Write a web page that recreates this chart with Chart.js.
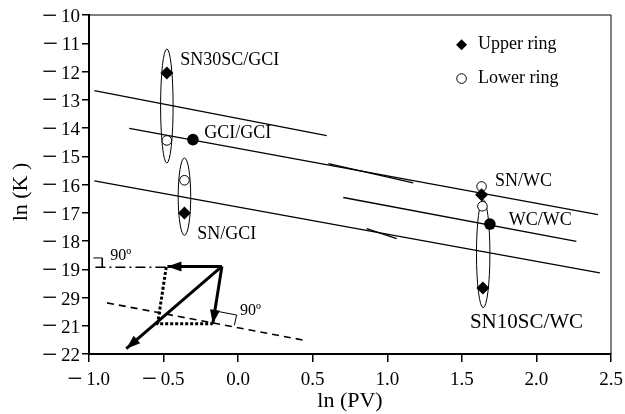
<!DOCTYPE html>
<html>
<head>
<meta charset="utf-8">
<script src="https://cdn.jsdelivr.net/npm/chart.js@4.4.0/dist/chart.umd.min.js"></script>
<style>
  html, body { margin: 0; padding: 0; background: #fff; }
  #wrap { width: 625px; height: 414px; }
</style>
</head>
<body>
<div id="wrap"><canvas id="chart" width="625" height="414"></canvas></div>
<script>
// axis ticks
const xTickValues = [-1.0, -0.5, 0.0, 0.5, 1.0, 1.5, 2.0, 2.5];
const xTickLabels = ['−1.0', '−0.5', '0.0', '0.5', '1.0', '1.5', '2.0', '2.5'];
const yTickValues = [-22, -21, -20, -19, -18, -17, -16, -15, -14, -13, -12, -11, -10];
const yTickLabels = ['−22', '−21', '−29', '−19', '−18', '−17', '−16', '−15', '−14', '−13', '−12', '−11', '−10'];

// measured points: ln(PV), ln(K)
const upperX = [-0.478, -0.36, 1.632, 1.641];
const upperY = [-12.05, -17.01, -16.36, -19.66];
const lowerX = [-0.478, -0.36, 1.632, 1.638];
const lowerY = [-14.44, -15.85, -16.07, -16.77];
const bothX = [-0.303, 1.688];
const bothY = [-14.41, -17.40];

// trend lines
const line1X = [-0.964, 0.594];
const line1Y = [-12.68, -14.27];
const line2X = [-0.73, 2.413];
const line2Y = [-14.01, -17.07];
const line3X = [0.705, 2.268];
const line3Y = [-16.46, -18.01];
const line4X = [-0.964, 2.425];
const line4Y = [-15.87, -19.13];
const short1X = [0.605, 1.174];
const short1Y = [-15.26, -15.94];
const short2X = [0.862, 1.063];
const short2Y = [-17.56, -17.92];

// vector sketch in lower left
const dashX = [-0.879, 0.449];
const dashY = [-20.19, -21.52];
const dashDotX = [-0.957, -0.48];
const dashDotY = [-18.93, -18.93];
const dottedX = [-0.482, -0.54, -0.17];
const dottedY = [-18.92, -20.93, -20.93];
const arrowOrigin = [-0.109, -18.90];
const arrowEndX = [-0.474, -0.17, -0.75];
const arrowEndY = [-18.90, -20.93, -21.81];
const corner1X = [-0.971, -0.911, -0.911];
const corner1Y = [-18.60, -18.60, -18.93];
const corner2X = [-0.15, -0.01, -0.025];
const corner2Y = [-20.48, -20.62, -20.98];

// groups (ellipses): center x, center y, half width, half height
const ellX = [-0.478, -0.36, 1.643];
const ellY = [-13.22, -16.43, -18.45];
const ellRx = [0.042, 0.042, 0.045];
const ellRy = [2.02, 1.37, 1.91];

// labels
const labelText = ['SN30SC/GCI', 'GCI/GCI', 'SN/GCI', 'SN/WC', 'WC/WC', 'SN10SC/WC', '90º', '90º'];
const labelX = [-0.388, -0.228, -0.275, 1.722, 1.815, 1.554, -0.857, 0.013];
const labelY = [-11.62, -14.18, -17.75, -15.89, -17.28, -20.88, -18.52, -20.47];
const labelSize = [18, 18, 18, 18, 18, 21, 16, 16];

const serif = "'Liberation Serif', 'Times New Roman', serif";
const pts = (xs, ys) => xs.map((x, i) => ({ x: x, y: ys[i] }));

function lineSet(xs, ys, width, dash) {
    return {
        type: 'line',
        data: pts(xs, ys),
        borderColor: '#000',
        borderWidth: width,
        borderDash: dash || [],
        pointRadius: 0,
        fill: false,
        tension: 0,
        order: 5
    };
}

const datasets = [
    lineSet(line1X, line1Y, 1.3),
    lineSet(line2X, line2Y, 1.3),
    lineSet(line3X, line3Y, 1.3),
    lineSet(line4X, line4Y, 1.3),
    lineSet(short1X, short1Y, 1.3),
    lineSet(short2X, short2Y, 1.3),
    lineSet(dashX, dashY, 1.6, [7, 5]),
    lineSet(dashDotX, dashDotY, 1.6, [10, 4, 2, 4]),
    lineSet(dottedX, dottedY, 3, [3, 2]),
    lineSet(corner1X, corner1Y, 1),
    lineSet(corner2X, corner2Y, 1),
];
arrowEndX.forEach((x, i) => {
    datasets.push(lineSet([arrowOrigin[0], x], [arrowOrigin[1], arrowEndY[i]], 3));
});
datasets.push({
    type: 'scatter', label: 'Lower ring', data: pts(lowerX, lowerY),
    pointStyle: 'circle', pointRadius: 4.8, borderWidth: 1,
    borderColor: '#000', backgroundColor: '#fff', order: 3
});
datasets.push({
    type: 'scatter', label: 'Upper ring', data: pts(upperX, upperY),
    pointStyle: 'rectRot', pointRadius: 6.5, borderWidth: 0,
    borderColor: '#000', backgroundColor: '#000', order: 2
});
datasets.push({
    type: 'scatter', label: 'Both', data: pts(bothX, bothY),
    pointStyle: 'circle', pointRadius: 5.8, borderWidth: 0,
    borderColor: '#000', backgroundColor: '#000', order: 1
});

// draws a label with a long minus sign like the original figure
function drawNumber(ctx, text, x, baseline, align) {
    const neg = text.startsWith('−');
    const body = neg ? text.slice(1) : text;
    ctx.font = '19px ' + serif;
    const bw = ctx.measureText(body).width;
    const mw = neg ? 18 : 0;
    let left = align === 'right' ? x - bw - mw : x - (bw + mw) / 2;
    ctx.textAlign = 'left';
    ctx.textBaseline = 'alphabetic';
    if (neg) {
        ctx.font = '27px ' + serif;
        ctx.fillText('−', left - 1, baseline + 1.5);
        ctx.font = '19px ' + serif;
    }
    ctx.fillText(body, left + mw, baseline);
}

const decor = {
    id: 'decor',
    beforeDatasetsDraw(chart) {
        const { ctx, chartArea: a, scales: { x, y } } = chart;
        ctx.save();
        // frame top + right
        ctx.strokeStyle = '#000';
        ctx.lineWidth = 1;
        ctx.beginPath();
        ctx.moveTo(a.left, a.top);
        ctx.lineTo(a.right, a.top);
        ctx.lineTo(a.right, a.bottom);
        ctx.stroke();
        // ellipses
        ellX.forEach((cx, i) => {
            const px = x.getPixelForValue(cx);
            const py = y.getPixelForValue(ellY[i]);
            const rx = Math.abs(x.getPixelForValue(cx + ellRx[i]) - px);
            const ry = Math.abs(y.getPixelForValue(ellY[i] + ellRy[i]) - py);
            ctx.beginPath();
            ctx.ellipse(px, py, rx, ry, 0, 0, Math.PI * 2);
            ctx.stroke();
        });
        ctx.restore();
    },
    afterDatasetsDraw(chart) {
        const { ctx, scales: { x, y } } = chart;
        ctx.save();
        // arrow heads
        const ox = x.getPixelForValue(arrowOrigin[0]);
        const oy = y.getPixelForValue(arrowOrigin[1]);
        ctx.fillStyle = '#000';
        arrowEndX.forEach((ex, i) => {
            const px = x.getPixelForValue(ex);
            const py = y.getPixelForValue(arrowEndY[i]);
            const ang = Math.atan2(py - oy, px - ox);
            const len = 14, half = 5;
            ctx.beginPath();
            ctx.moveTo(px, py);
            ctx.lineTo(px - len * Math.cos(ang) + half * Math.sin(ang), py - len * Math.sin(ang) - half * Math.cos(ang));
            ctx.lineTo(px - len * Math.cos(ang) - half * Math.sin(ang), py - len * Math.sin(ang) + half * Math.cos(ang));
            ctx.closePath();
            ctx.fill();
        });
        // labels
        ctx.textBaseline = 'middle';
        ctx.textAlign = 'left';
        labelText.forEach((t, i) => {
            ctx.font = labelSize[i] + 'px ' + serif;
            ctx.fillText(t, x.getPixelForValue(labelX[i]), y.getPixelForValue(labelY[i]));
        });
        // legend
        const lx = x.getPixelForValue(1.498);
        const tx = x.getPixelForValue(1.608);
        const ly1 = y.getPixelForValue(-11.05);
        const ly2 = y.getPixelForValue(-12.25);
        ctx.beginPath();
        ctx.moveTo(lx, ly1 - 5.5);
        ctx.lineTo(lx + 5.5, ly1);
        ctx.lineTo(lx, ly1 + 5.5);
        ctx.lineTo(lx - 5.5, ly1);
        ctx.closePath();
        ctx.fill();
        ctx.beginPath();
        ctx.arc(lx, ly2, 4.8, 0, Math.PI * 2);
        ctx.lineWidth = 1;
        ctx.strokeStyle = '#000';
        ctx.stroke();
        ctx.font = '18px ' + serif;
        ctx.fillText('Upper ring', tx, ly1);
        ctx.fillText('Lower ring', tx, ly2);
        ctx.restore();
    },
    afterDraw(chart) {
        const { ctx, chartArea: a, scales: { x, y } } = chart;
        ctx.save();
        ctx.fillStyle = '#000';
        // tick labels
        yTickValues.forEach((v, i) => {
            drawNumber(ctx, yTickLabels[i], a.left - 9, y.getPixelForValue(v) + 7.2, 'right');
        });
        xTickValues.forEach((v, i) => {
            drawNumber(ctx, xTickLabels[i], x.getPixelForValue(v), a.bottom + 31, 'center');
        });
        // y axis title
        ctx.translate(21, 192);
        ctx.rotate(-Math.PI / 2);
        ctx.font = '22px ' + serif;
        ctx.textAlign = 'center';
        ctx.textBaseline = 'middle';
        ctx.fillText('ln (K )', 0, 0);
        ctx.restore();
    }
};

new Chart(document.getElementById('chart'), {
    type: 'scatter',
    data: { datasets: datasets },
    plugins: [decor],
    options: {
        responsive: false,
        animation: false,
        layout: { padding: { left: 0, right: 14, top: 15, bottom: 0 } },
        plugins: { legend: { display: false }, tooltip: { enabled: false } },
        scales: {
            x: {
                type: 'linear', min: -1, max: 2.5,
                afterBuildTicks: (s) => { s.ticks = xTickValues.map(v => ({ value: v })); },
                afterFit: (s) => { s.height = 60; },
                border: { display: true, color: '#000', width: 2 },
                grid: { drawOnChartArea: false, drawTicks: true, tickLength: 8, color: '#000', lineWidth: 1.5 },
                ticks: { display: false },
                title: { display: true, text: 'ln (PV)', color: '#000', font: { family: serif, size: 22 }, padding: { top: 0, bottom: 0 } }
            },
            y: {
                type: 'linear', min: -22, max: -10,
                afterBuildTicks: (s) => { s.ticks = yTickValues.map(v => ({ value: v })); },
                afterFit: (s) => { s.width = 89; },
                border: { display: true, color: '#000', width: 2 },
                grid: { drawOnChartArea: false, drawTicks: true, tickLength: 7, color: '#000', lineWidth: 1.5 },
                ticks: { display: false }
            }
        }
    }
});
</script>
</body>
</html>
